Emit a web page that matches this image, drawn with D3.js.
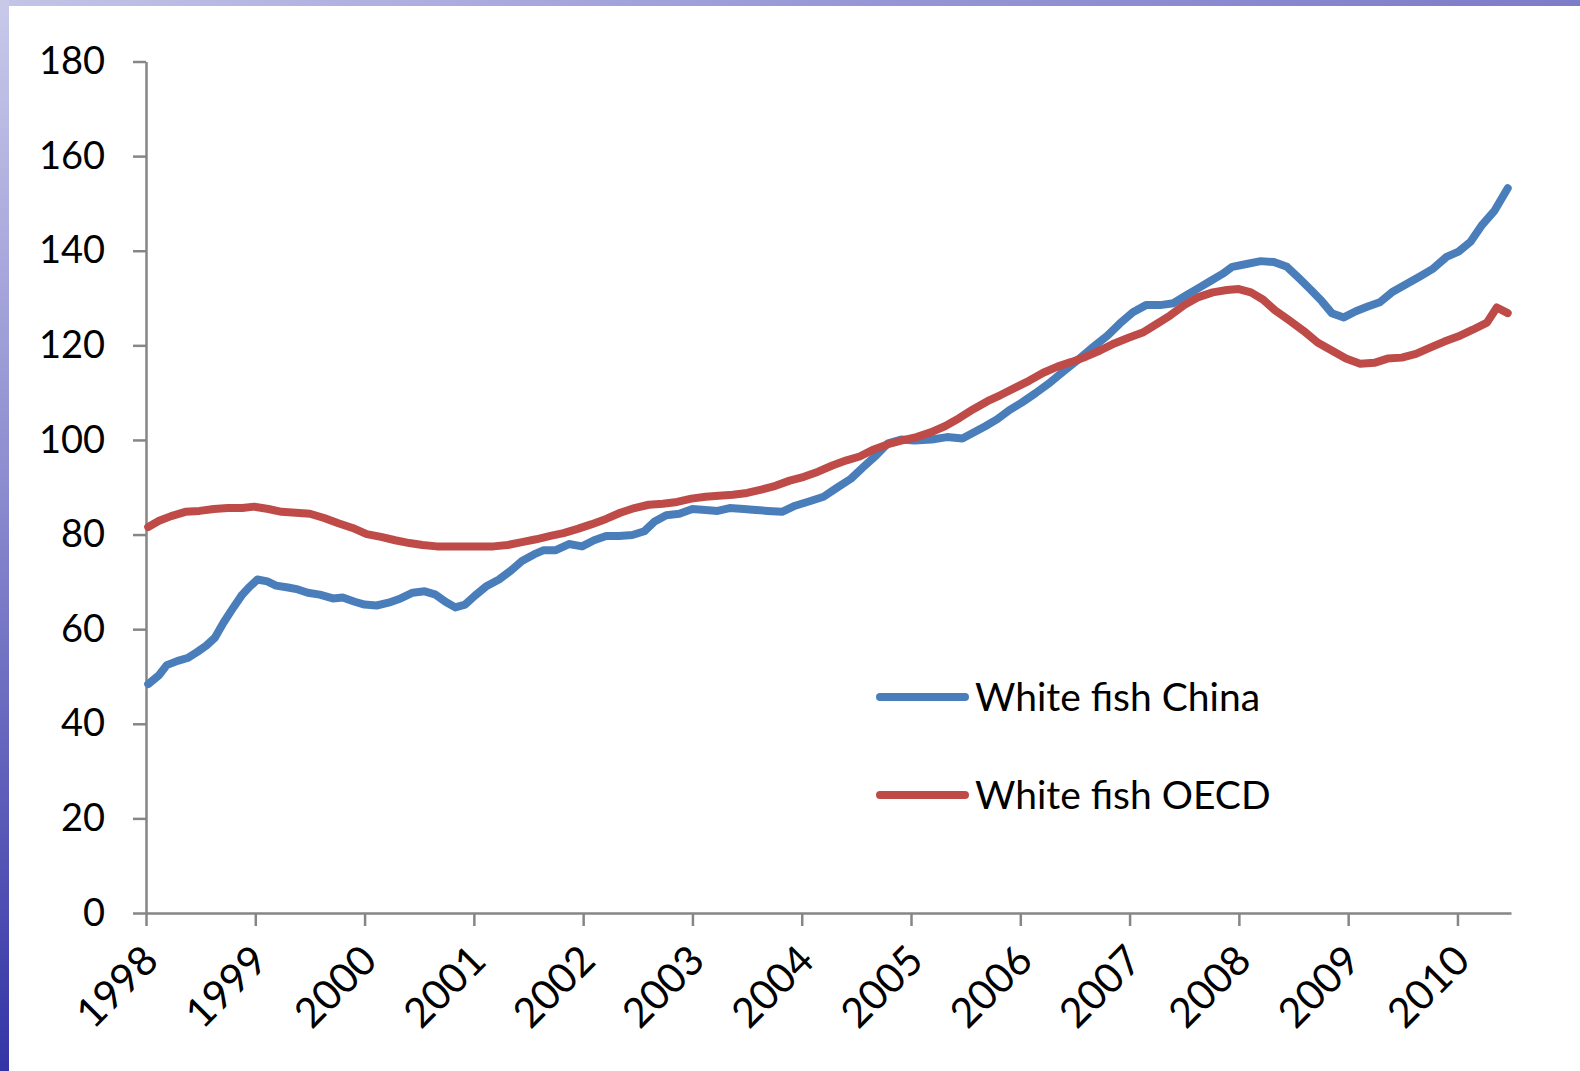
<!DOCTYPE html>
<html>
<head>
<meta charset="utf-8">
<script src="https://cdn.jsdelivr.net/npm/d3@7"></script>
<style>
  html, body { margin: 0; padding: 0; background: #fff; }
  svg { display: block; }
  text { font-family: Lato, "Open Sans", sans-serif; fill: #000; }
</style>
</head>
<body>
<svg id="chart" width="1580" height="1071"></svg>
<script>
// ---- data (decimal year, index value) ----
const yearTicks = [1998, 1999, 2000, 2001, 2002, 2003, 2004, 2005, 2006, 2007, 2008, 2009, 2010];
const valueTicks = [0, 20, 40, 60, 80, 100, 120, 140, 160, 180];
const seriesNames = ["White fish China", "White fish OECD"];

const chinaYears = [1998.02,1998.12,1998.19,1998.29,1998.38,1998.47,1998.55,1998.63,1998.71,1998.80,1998.88,1998.95,
  1999.02,1999.11,1999.19,1999.30,1999.39,1999.48,1999.59,1999.71,1999.80,1999.91,
  2000.00,2000.11,2000.22,2000.33,2000.44,2000.55,2000.65,2000.74,2000.83,2000.92,
  2001.01,2001.11,2001.23,2001.34,2001.44,2001.55,2001.64,2001.75,2001.87,2001.99,
  2002.10,2002.21,2002.33,2002.45,2002.56,2002.65,2002.76,2002.88,
  2003.00,2003.12,2003.23,2003.34,2003.47,2003.58,2003.69,2003.82,2003.94,
  2004.08,2004.20,2004.31,2004.45,2004.57,2004.68,2004.79,2004.91,
  2005.03,2005.19,2005.33,2005.47,2005.56,2005.68,2005.79,2005.90,
  2006.02,2006.14,2006.27,2006.40,2006.53,2006.66,2006.80,2006.91,
  2007.03,2007.15,2007.28,2007.40,2007.52,2007.63,2007.74,2007.85,2007.94,
  2008.07,2008.20,2008.32,2008.44,2008.55,2008.66,2008.76,2008.85,2008.96,
  2009.07,2009.18,2009.29,2009.40,2009.53,2009.66,2009.77,2009.90,
  2010.01,2010.12,2010.22,2010.34,2010.46];
const chinaValues = [48.4,50.3,52.4,53.3,53.9,55.2,56.5,58.2,61.4,64.6,67.3,69.0,
  70.5,70.1,69.2,68.8,68.4,67.7,67.3,66.5,66.7,65.8,
  65.2,65.0,65.6,66.5,67.7,68.0,67.3,65.8,64.6,65.2,
  67.1,69.0,70.5,72.4,74.4,75.8,76.7,76.7,78.0,77.5,
  78.8,79.7,79.7,79.9,80.7,82.7,84.1,84.4,
  85.4,85.2,85.0,85.6,85.4,85.2,85.0,84.8,86.1,
  87.1,88.0,89.7,91.8,94.4,96.7,99.3,100.1,
  99.9,100.1,100.6,100.3,101.4,102.9,104.4,106.3,
  108.0,109.9,112.1,114.6,117.0,119.5,122.1,124.6,
  127.0,128.5,128.5,128.9,130.6,132.1,133.6,135.1,136.6,
  137.2,137.8,137.6,136.6,134.2,131.7,129.3,126.8,125.9,
  127.2,128.2,129.1,131.2,132.9,134.6,136.1,138.7,
  139.8,141.9,145.3,148.5,153.2];

const oecdYears = [1998.02,1998.12,1998.23,1998.36,1998.49,1998.62,1998.75,1998.88,1998.99,
  1999.12,1999.24,1999.37,1999.50,1999.63,1999.76,1999.89,
  2000.02,2000.15,2000.28,2000.41,2000.53,2000.66,2000.79,2000.92,
  2001.05,2001.18,2001.31,2001.44,2001.57,2001.70,2001.82,2001.95,
  2002.08,2002.21,2002.34,2002.47,2002.60,2002.73,2002.86,2002.99,
  2003.12,2003.24,2003.37,2003.50,2003.63,2003.76,2003.89,
  2004.02,2004.15,2004.28,2004.41,2004.53,2004.66,2004.79,2004.92,
  2005.05,2005.18,2005.31,2005.44,2005.57,2005.70,2005.82,2005.95,
  2006.08,2006.21,2006.34,2006.47,2006.60,2006.73,2006.86,2006.99,
  2007.12,2007.24,2007.37,2007.50,2007.63,2007.76,2007.89,
  2008.00,2008.11,2008.22,2008.33,2008.46,2008.59,2008.72,2008.85,2008.98,
  2009.11,2009.24,2009.36,2009.49,2009.62,2009.75,2009.88,
  2010.01,2010.14,2010.27,2010.36,2010.46];
const oecdValues = [81.6,82.9,83.9,84.8,85.0,85.4,85.6,85.6,85.9,
  85.4,84.8,84.6,84.4,83.5,82.4,81.4,
  80.1,79.5,78.8,78.2,77.8,77.5,77.5,77.5,
  77.5,77.5,77.8,78.4,79.0,79.7,80.3,81.2,
  82.2,83.3,84.6,85.6,86.3,86.5,86.9,87.6,
  88.0,88.2,88.4,88.8,89.5,90.3,91.4,
  92.2,93.3,94.6,95.7,96.5,98.0,99.1,99.9,
  100.6,101.6,102.9,104.6,106.5,108.2,109.5,111.0,
  112.5,114.2,115.5,116.5,117.6,118.9,120.4,121.6,
  122.7,124.4,126.3,128.5,130.2,131.2,131.7,
  131.9,131.2,129.7,127.4,125.3,123.1,120.6,118.9,117.2,
  116.1,116.3,117.2,117.4,118.2,119.5,120.8,
  121.9,123.3,124.8,128.0,126.8];

const seriesColors = ["#4A7EBB", "#BE4B48"];

// ---- chart ----
const svg = d3.select("#chart");
const W = 1580, H = 1071;

// slide backdrop border (blue textured frame on top & left)
const defs = svg.append("defs");
const gL = defs.append("linearGradient").attr("id", "gl").attr("x1", 0).attr("y1", 0).attr("x2", 0).attr("y2", 1);
gL.append("stop").attr("offset", "0%").attr("stop-color", "#c9c9ea");
gL.append("stop").attr("offset", "45%").attr("stop-color", "#8c8cd0");
gL.append("stop").attr("offset", "100%").attr("stop-color", "#3434a6");
const gT = defs.append("linearGradient").attr("id", "gt").attr("x1", 0).attr("y1", 0).attr("x2", 1).attr("y2", 0);
gT.append("stop").attr("offset", "0%").attr("stop-color", "#c4c4e8");
gT.append("stop").attr("offset", "50%").attr("stop-color", "#9a9ad8");
gT.append("stop").attr("offset", "100%").attr("stop-color", "#7c7cc8");
svg.append("rect").attr("x", 0).attr("y", 0).attr("width", W).attr("height", 6).attr("fill", "url(#gt)");
svg.append("rect").attr("x", 0).attr("y", 0).attr("width", 9).attr("height", H).attr("fill", "url(#gl)");

const x = d3.scaleLinear().domain([1998, 2010.49]).range([146, 1511]);
const y = d3.scaleLinear().domain([0, 180]).range([913, 61.5]);

// y axis
const yAxis = d3.axisLeft(y).tickValues(valueTicks).tickSize(13).tickPadding(28).tickSizeOuter(0);
const gy = svg.append("g").attr("transform", `translate(${x(1998)},0)`).call(yAxis);
gy.selectAll("path, line").attr("stroke", "#868686").attr("stroke-width", 2.5);
gy.selectAll("text").attr("font-size", 38).attr("font-family", "Lato, sans-serif").attr("fill", "#000");

// x axis
const xAxis = d3.axisBottom(x).tickValues(yearTicks).tickSize(13).tickSizeOuter(0).tickFormat(d3.format("d"));
const gx = svg.append("g").attr("transform", `translate(0,${y(0)})`).call(xAxis);
gx.selectAll("path, line").attr("stroke", "#868686").attr("stroke-width", 2.5);
gx.selectAll("text")
  .attr("font-size", 41).attr("font-family", "Lato, sans-serif").attr("fill", "#000")
  .attr("text-anchor", "end")
  .attr("dy", null).attr("y", null)
  .attr("transform", "translate(14,50) rotate(-45)");

// lines
const line = d3.line().x(d => x(d[0])).y(d => y(d[1]));
const series = [
  d3.zip(chinaYears, chinaValues),
  d3.zip(oecdYears, oecdValues)
];
series.forEach((s, i) => {
  svg.append("path").datum(s)
    .attr("d", line)
    .attr("fill", "none")
    .attr("stroke", seriesColors[i])
    .attr("stroke-width", 8)
    .attr("stroke-linejoin", "round")
    .attr("stroke-linecap", "round");
});

// legend
const legendY = [697, 795];
seriesNames.forEach((name, i) => {
  const g = svg.append("g").attr("transform", `translate(0,${legendY[i]})`);
  g.append("line").attr("x1", 880).attr("x2", 965).attr("y1", 0).attr("y2", 0)
    .attr("stroke", seriesColors[i]).attr("stroke-width", 8).attr("stroke-linecap", "round");
  g.append("text").attr("x", 975).attr("y", 14).attr("font-size", 39).text(name);
});
</script>
</body>
</html>
